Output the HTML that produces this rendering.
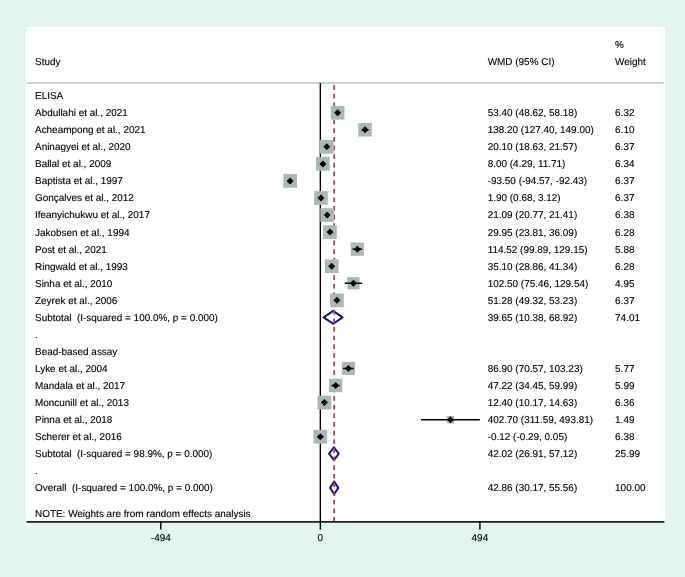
<!DOCTYPE html>
<html><head><meta charset="utf-8"><style>
html,body{margin:0;padding:0;background:#e2f5ef;}
svg{display:block;will-change:transform;}
text{font-family:"Liberation Sans",sans-serif;font-size:9.95px;fill:#000;white-space:pre;stroke:#000;stroke-width:0.12px;text-rendering:geometricPrecision;}
</style></head><body>
<svg width="685" height="577" viewBox="0 0 685 577">
<rect x="0" y="0" width="685" height="577" fill="#e2f5ef"/>
<rect x="0" y="0" width="685" height="1" fill="#e9f7f3"/>
<rect x="26" y="27" width="639" height="495" fill="#fff"/>
<line x1="27" y1="83" x2="664" y2="83" stroke="#c6d4d1" stroke-width="1.8"/>
<line x1="320.35" y1="83" x2="320.35" y2="522" stroke="#000" stroke-width="1.4"/>
<g stroke="#10108f" stroke-width="2" fill="none" stroke-linejoin="round"><path d="M323.70 317.35 L333.16 310.95 L342.61 317.35 L333.16 323.75 Z"/><path d="M329.04 453.75 L333.92 447.35 L338.80 453.75 L333.92 460.15 Z"/><path d="M330.09 487.85 L334.19 481.45 L338.29 487.85 L334.19 494.25 Z"/></g>
<line x1="334.19" y1="85.1" x2="334.19" y2="521.5" stroke="#9c4468" stroke-width="1.8" stroke-dasharray="4.7 3.94"/>
<g fill="#a9b9b6"><rect x="330.76" y="105.92" width="13.67" height="13.67"/><rect x="358.26" y="123.07" width="13.46" height="13.46"/><rect x="319.98" y="139.99" width="13.71" height="13.71"/><rect x="316.09" y="157.06" width="13.69" height="13.69"/><rect x="283.29" y="174.09" width="13.71" height="13.71"/><rect x="314.11" y="191.14" width="13.71" height="13.71"/><rect x="320.30" y="208.19" width="13.72" height="13.72"/><rect x="323.21" y="225.29" width="13.63" height="13.63"/><rect x="350.72" y="242.53" width="13.24" height="13.24"/><rect x="324.87" y="259.39" width="13.63" height="13.63"/><rect x="347.32" y="277.11" width="12.28" height="12.28"/><rect x="330.05" y="293.44" width="13.71" height="13.71"/><rect x="341.85" y="361.94" width="13.13" height="13.13"/><rect x="328.93" y="378.88" width="13.35" height="13.35"/><rect x="317.50" y="395.75" width="13.71" height="13.71"/><rect x="446.68" y="415.92" width="7.46" height="7.46"/><rect x="313.45" y="429.84" width="13.72" height="13.72"/></g>
<g stroke="#000" stroke-width="1.5"><line x1="336.05" y1="112.75" x2="339.14" y2="112.75"/><line x1="361.50" y1="129.80" x2="368.47" y2="129.80"/><line x1="326.37" y1="146.85" x2="327.32" y2="146.85"/><line x1="321.74" y1="163.90" x2="324.13" y2="163.90"/><line x1="289.81" y1="180.95" x2="290.50" y2="180.95"/><line x1="320.57" y1="198.00" x2="321.36" y2="198.00"/><line x1="327.06" y1="215.05" x2="327.26" y2="215.05"/><line x1="328.04" y1="232.10" x2="332.01" y2="232.10"/><line x1="352.61" y1="249.15" x2="362.06" y2="249.15"/><line x1="329.67" y1="266.20" x2="333.70" y2="266.20"/><line x1="344.72" y1="283.25" x2="362.19" y2="283.25"/><line x1="336.28" y1="300.30" x2="337.54" y2="300.30"/><line x1="343.14" y1="368.50" x2="353.69" y2="368.50"/><line x1="331.48" y1="385.55" x2="339.73" y2="385.55"/><line x1="323.63" y1="402.60" x2="325.08" y2="402.60"/><line x1="420.99" y1="419.65" x2="479.84" y2="419.65"/><line x1="320.26" y1="436.70" x2="320.37" y2="436.70"/></g>
<g fill="#000"><path d="M334.10 112.75 L337.60 109.25 L341.10 112.75 L337.60 116.25 Z"/><path d="M361.49 129.80 L364.99 126.30 L368.49 129.80 L364.99 133.30 Z"/><path d="M323.34 146.85 L326.84 143.35 L330.34 146.85 L326.84 150.35 Z"/><path d="M319.43 163.90 L322.93 160.40 L326.43 163.90 L322.93 167.40 Z"/><path d="M286.65 180.95 L290.15 177.45 L293.65 180.95 L290.15 184.45 Z"/><path d="M317.46 198.00 L320.96 194.50 L324.46 198.00 L320.96 201.50 Z"/><path d="M323.66 215.05 L327.16 211.55 L330.66 215.05 L327.16 218.55 Z"/><path d="M326.52 232.10 L330.02 228.60 L333.52 232.10 L330.02 235.60 Z"/><path d="M353.84 249.15 L357.34 245.65 L360.84 249.15 L357.34 252.65 Z"/><path d="M328.19 266.20 L331.69 262.70 L335.19 266.20 L331.69 269.70 Z"/><path d="M349.96 283.25 L353.46 279.75 L356.96 283.25 L353.46 286.75 Z"/><path d="M333.41 300.30 L336.91 296.80 L340.41 300.30 L336.91 303.80 Z"/><path d="M344.92 368.50 L348.42 365.00 L351.92 368.50 L348.42 372.00 Z"/><path d="M332.10 385.55 L335.60 382.05 L339.10 385.55 L335.60 389.05 Z"/><path d="M320.85 402.60 L324.35 399.10 L327.85 402.60 L324.35 406.10 Z"/><path d="M446.91 419.65 L450.41 416.15 L453.91 419.65 L450.41 423.15 Z"/><path d="M316.81 436.70 L320.31 433.20 L323.81 436.70 L320.31 440.20 Z"/></g>
<line x1="26.6" y1="521.8" x2="664.4" y2="521.8" stroke="#1c2020" stroke-width="1.7"/>
<g stroke="#000" stroke-width="1.4">
<line x1="160.80" y1="521.6" x2="160.80" y2="529.6"/>
<line x1="320.35" y1="521.6" x2="320.35" y2="529.6"/>
<line x1="479.90" y1="521.6" x2="479.90" y2="529.6"/>
</g>
<g text-anchor="middle">
<text x="160.80" y="540.7">-494</text>
<text x="320.35" y="540.7">0</text>
<text x="479.90" y="540.7">494</text>
</g>
<text x="35.0" y="64.6">Study</text>
<text x="487.7" y="64.6">WMD (95% CI)</text>
<text x="615.1" y="48.2">%</text>
<text x="615.1" y="64.6">Weight</text>
<text x="35.0" y="99.10">ELISA</text><text x="35.0" y="116.15">Abdullahi et al., 2021</text><text x="487.7" y="116.15">53.40 (48.62, 58.18)</text><text x="615.1" y="116.15">6.32</text><text x="35.0" y="133.20">Acheampong et al., 2021</text><text x="487.7" y="133.20">138.20 (127.40, 149.00)</text><text x="615.1" y="133.20">6.10</text><text x="35.0" y="150.25">Aninagyei et al., 2020</text><text x="487.7" y="150.25">20.10 (18.63, 21.57)</text><text x="615.1" y="150.25">6.37</text><text x="35.0" y="167.30">Ballal et al., 2009</text><text x="487.7" y="167.30">8.00 (4.29, 11.71)</text><text x="615.1" y="167.30">6.34</text><text x="35.0" y="184.35">Baptista et al., 1997</text><text x="487.7" y="184.35">-93.50 (-94.57, -92.43)</text><text x="615.1" y="184.35">6.37</text><text x="35.0" y="201.40">Gonçalves et al., 2012</text><text x="487.7" y="201.40">1.90 (0.68, 3.12)</text><text x="615.1" y="201.40">6.37</text><text x="35.0" y="218.45">Ifeanyichukwu et al., 2017</text><text x="487.7" y="218.45">21.09 (20.77, 21.41)</text><text x="615.1" y="218.45">6.38</text><text x="35.0" y="235.50">Jakobsen et al., 1994</text><text x="487.7" y="235.50">29.95 (23.81, 36.09)</text><text x="615.1" y="235.50">6.28</text><text x="35.0" y="252.55">Post et al., 2021</text><text x="487.7" y="252.55">114.52 (99.89, 129.15)</text><text x="615.1" y="252.55">5.88</text><text x="35.0" y="269.60">Ringwald et al., 1993</text><text x="487.7" y="269.60">35.10 (28.86, 41.34)</text><text x="615.1" y="269.60">6.28</text><text x="35.0" y="286.65">Sinha et al., 2010</text><text x="487.7" y="286.65">102.50 (75.46, 129.54)</text><text x="615.1" y="286.65">4.95</text><text x="35.0" y="303.70">Zeyrek et al., 2006</text><text x="487.7" y="303.70">51.28 (49.32, 53.23)</text><text x="615.1" y="303.70">6.37</text><text x="35.0" y="320.75">Subtotal  (I-squared = 100.0%, p = 0.000)</text><text x="487.7" y="320.75">39.65 (10.38, 68.92)</text><text x="615.1" y="320.75">74.01</text><text x="35.0" y="337.80">.</text><text x="35.0" y="354.85">Bead-based assay</text><text x="35.0" y="371.90">Lyke et al., 2004</text><text x="487.7" y="371.90">86.90 (70.57, 103.23)</text><text x="615.1" y="371.90">5.77</text><text x="35.0" y="388.95">Mandala et al., 2017</text><text x="487.7" y="388.95">47.22 (34.45, 59.99)</text><text x="615.1" y="388.95">5.99</text><text x="35.0" y="406.00">Moncunill et al., 2013</text><text x="487.7" y="406.00">12.40 (10.17, 14.63)</text><text x="615.1" y="406.00">6.36</text><text x="35.0" y="423.05">Pinna et al., 2018</text><text x="487.7" y="423.05">402.70 (311.59, 493.81)</text><text x="615.1" y="423.05">1.49</text><text x="35.0" y="440.10">Scherer et al., 2016</text><text x="487.7" y="440.10">-0.12 (-0.29, 0.05)</text><text x="615.1" y="440.10">6.38</text><text x="35.0" y="457.15">Subtotal  (I-squared = 98.9%, p = 0.000)</text><text x="487.7" y="457.15">42.02 (26.91, 57.12)</text><text x="615.1" y="457.15">25.99</text><text x="35.0" y="474.20">.</text><text x="35.0" y="491.25">Overall  (I-squared = 100.0%, p = 0.000)</text><text x="487.7" y="491.25">42.86 (30.17, 55.56)</text><text x="615.1" y="491.25">100.00</text><text x="35.0" y="516.83">NOTE: Weights are from random effects analysis</text>
</svg>
</body></html>
